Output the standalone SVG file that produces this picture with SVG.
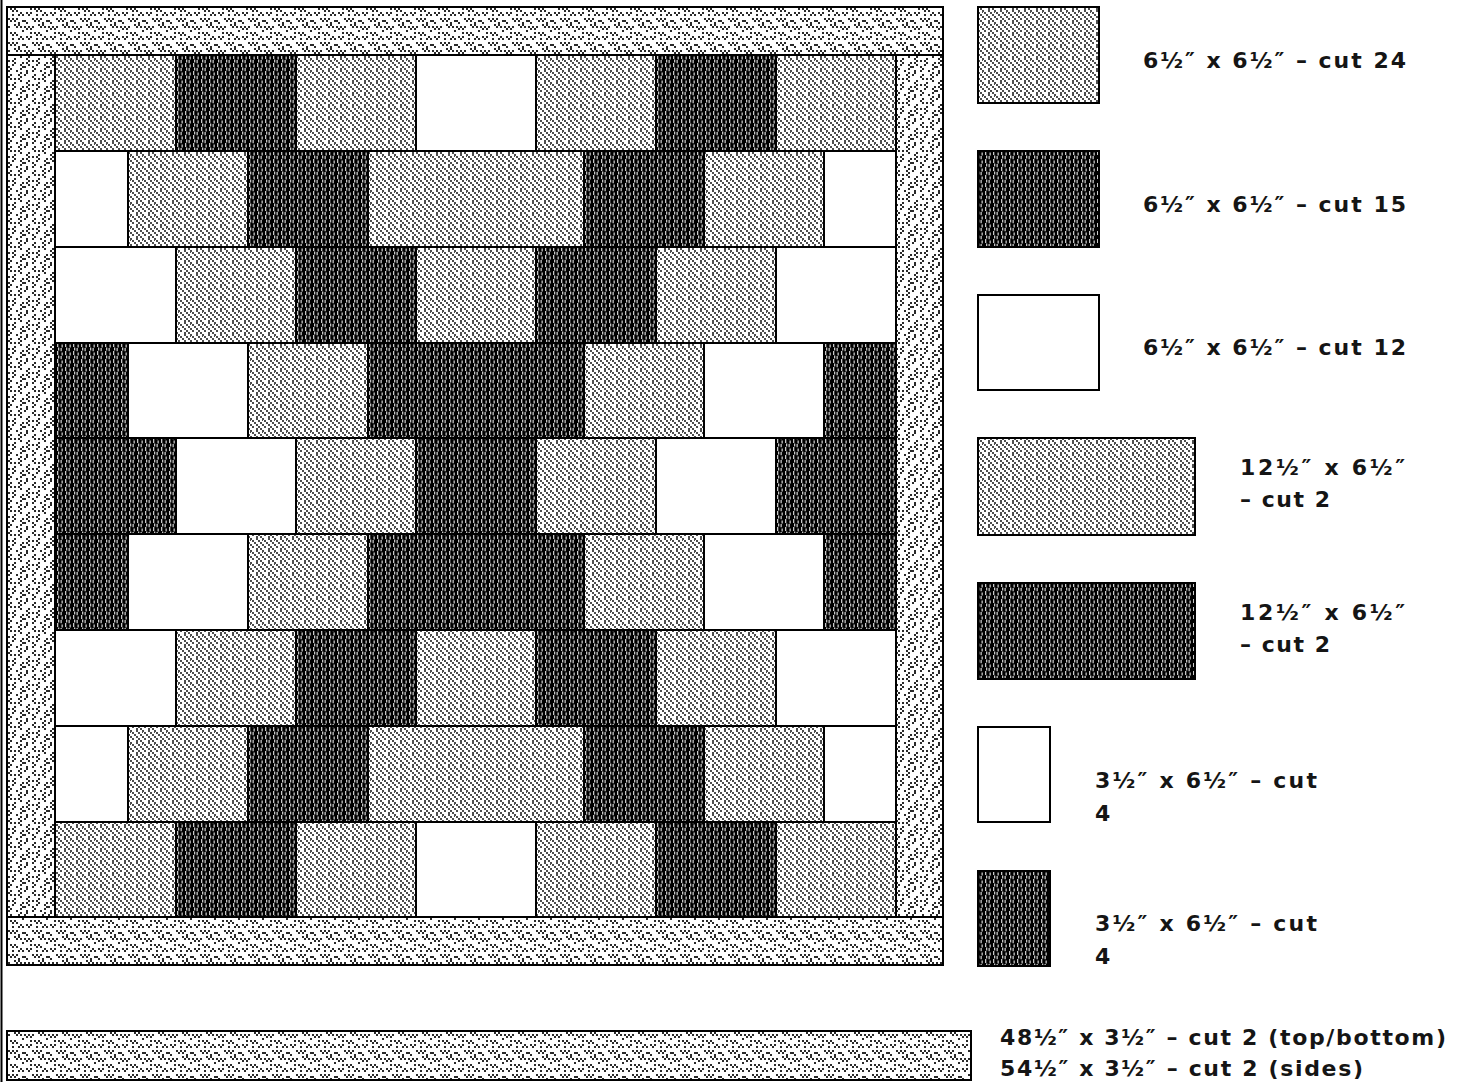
<svg xmlns="http://www.w3.org/2000/svg" width="1467" height="1082" viewBox="0 0 1467 1082">
<style>
.g,.d,.w,.b,.bv{stroke:#000;stroke-width:2}
.g{fill:url(#pg)}
.d{fill:url(#pd)}
.w{fill:#fff}
.b{fill:url(#pb)}
.bv{fill:url(#pbv)}
text{font-family:"DejaVu Sans","Liberation Sans",Arial,sans-serif;font-weight:bold;font-size:22px;fill:#151515}
</style>
<defs>
<pattern id="pg" width="12" height="12" patternUnits="userSpaceOnUse">
<rect x="0" y="0" width="12" height="12" fill="#fff"/>
<path fill="#4d4d4d" d="M0 0h2v2h-2zM2 2h2v2h-2zM4 4h2v2h-2zM6 6h2v2h-2zM8 8h2v2h-2zM10 10h2v2h-2zM6 0h2v2h-2zM8 2h2v2h-2zM10 4h2v2h-2zM0 6h2v2h-2zM4 8h2v2h-2zM4 10h2v2h-2zM10 0h1v1h-1z"/>
</pattern>
<pattern id="pd" width="8" height="8" patternUnits="userSpaceOnUse">
<rect x="0" y="0" width="8" height="8" fill="#000"/>
<path fill="#c8c8c8" d="M1 0h1.3v3h-1.3zM2 3.5h1.3v3h-1.3zM1 7h1.3v1h-1.3zM5.5 0.5h1.3v3h-1.3zM4.5 4h1.3v3.2h-1.3z"/>
</pattern>
<pattern id="pb" width="24" height="24" patternUnits="userSpaceOnUse">
<rect x="0" y="0" width="24" height="24" fill="#fff"/>
<path fill="#2a2a2a" d="M0 2h2v2h-2zM2 4h2v2h-2zM4 2h2v2h-2zM6 4h2v2h-2zM8 2h2v2h-2zM14 0h2v2h-2zM16 2h2v2h-2zM18 0h2v2h-2zM20 2h2v2h-2zM10 8h2v2h-2zM12 10h2v2h-2zM14 8h2v2h-2zM16 10h2v2h-2zM2 12h2v2h-2zM4 14h2v2h-2zM6 12h2v2h-2zM20 12h2v2h-2zM22 14h2v2h-2zM18 14h2v2h-2zM8 18h2v2h-2zM10 20h2v2h-2zM12 18h2v2h-2zM14 20h2v2h-2zM16 18h2v2h-2zM0 20h2v2h-2zM2 22h2v2h-2zM22 6h2v2h-2zM6 8h2v2h-2zM18 22h2v2h-2zM22 20h2v2h-2zM12 14h2v2h-2z"/>
</pattern>
<pattern id="pbv" href="#pb" patternTransform="rotate(90)"/>
</defs>

<line x1="1.5" y1="0" x2="1.5" y2="1082" stroke="#000" stroke-width="2"/>

<g id="quilt">
<g id="border-top"><rect class="b" x="7" y="7" width="936" height="48"/></g>
<g id="border-left"><rect class="bv" x="7" y="55" width="48" height="862"/></g>
<g id="border-right"><rect class="bv" x="896" y="55" width="47" height="862"/></g>
<g id="border-bottom"><rect class="b" x="7" y="917" width="936" height="48"/></g>

<g id="r1c1"><rect class="g" x="55" y="55" width="121" height="96"/></g>
<g id="r1c2"><rect class="d" x="176" y="55" width="120" height="96"/></g>
<g id="r1c3"><rect class="g" x="296" y="55" width="120" height="96"/></g>
<g id="r1c4"><rect class="w" x="416" y="55" width="120" height="96"/></g>
<g id="r1c5"><rect class="g" x="536" y="55" width="120" height="96"/></g>
<g id="r1c6"><rect class="d" x="656" y="55" width="120" height="96"/></g>
<g id="r1c7"><rect class="g" x="776" y="55" width="120" height="96"/></g>

<g id="r2c1"><rect class="w" x="55" y="151" width="73" height="96"/></g>
<g id="r2c2"><rect class="g" x="128" y="151" width="120" height="96"/></g>
<g id="r2c3"><rect class="d" x="248" y="151" width="120" height="96"/></g>
<g id="r2c4"><rect class="g" x="368" y="151" width="216" height="96"/></g>
<g id="r2c5"><rect class="d" x="584" y="151" width="120" height="96"/></g>
<g id="r2c6"><rect class="g" x="704" y="151" width="120" height="96"/></g>
<g id="r2c7"><rect class="w" x="824" y="151" width="72" height="96"/></g>

<g id="r3c1"><rect class="w" x="55" y="247" width="121" height="96"/></g>
<g id="r3c2"><rect class="g" x="176" y="247" width="120" height="96"/></g>
<g id="r3c3"><rect class="d" x="296" y="247" width="120" height="96"/></g>
<g id="r3c4"><rect class="g" x="416" y="247" width="120" height="96"/></g>
<g id="r3c5"><rect class="d" x="536" y="247" width="120" height="96"/></g>
<g id="r3c6"><rect class="g" x="656" y="247" width="120" height="96"/></g>
<g id="r3c7"><rect class="w" x="776" y="247" width="120" height="96"/></g>

<g id="r4c1"><rect class="d" x="55" y="343" width="73" height="95"/></g>
<g id="r4c2"><rect class="w" x="128" y="343" width="120" height="95"/></g>
<g id="r4c3"><rect class="g" x="248" y="343" width="120" height="95"/></g>
<g id="r4c4"><rect class="d" x="368" y="343" width="216" height="95"/></g>
<g id="r4c5"><rect class="g" x="584" y="343" width="120" height="95"/></g>
<g id="r4c6"><rect class="w" x="704" y="343" width="120" height="95"/></g>
<g id="r4c7"><rect class="d" x="824" y="343" width="72" height="95"/></g>

<g id="r5c1"><rect class="d" x="55" y="438" width="121" height="96"/></g>
<g id="r5c2"><rect class="w" x="176" y="438" width="120" height="96"/></g>
<g id="r5c3"><rect class="g" x="296" y="438" width="120" height="96"/></g>
<g id="r5c4"><rect class="d" x="416" y="438" width="120" height="96"/></g>
<g id="r5c5"><rect class="g" x="536" y="438" width="120" height="96"/></g>
<g id="r5c6"><rect class="w" x="656" y="438" width="120" height="96"/></g>
<g id="r5c7"><rect class="d" x="776" y="438" width="120" height="96"/></g>

<g id="r6c1"><rect class="d" x="55" y="534" width="73" height="96"/></g>
<g id="r6c2"><rect class="w" x="128" y="534" width="120" height="96"/></g>
<g id="r6c3"><rect class="g" x="248" y="534" width="120" height="96"/></g>
<g id="r6c4"><rect class="d" x="368" y="534" width="216" height="96"/></g>
<g id="r6c5"><rect class="g" x="584" y="534" width="120" height="96"/></g>
<g id="r6c6"><rect class="w" x="704" y="534" width="120" height="96"/></g>
<g id="r6c7"><rect class="d" x="824" y="534" width="72" height="96"/></g>

<g id="r7c1"><rect class="w" x="55" y="630" width="121" height="96"/></g>
<g id="r7c2"><rect class="g" x="176" y="630" width="120" height="96"/></g>
<g id="r7c3"><rect class="d" x="296" y="630" width="120" height="96"/></g>
<g id="r7c4"><rect class="g" x="416" y="630" width="120" height="96"/></g>
<g id="r7c5"><rect class="d" x="536" y="630" width="120" height="96"/></g>
<g id="r7c6"><rect class="g" x="656" y="630" width="120" height="96"/></g>
<g id="r7c7"><rect class="w" x="776" y="630" width="120" height="96"/></g>

<g id="r8c1"><rect class="w" x="55" y="726" width="73" height="96"/></g>
<g id="r8c2"><rect class="g" x="128" y="726" width="120" height="96"/></g>
<g id="r8c3"><rect class="d" x="248" y="726" width="120" height="96"/></g>
<g id="r8c4"><rect class="g" x="368" y="726" width="216" height="96"/></g>
<g id="r8c5"><rect class="d" x="584" y="726" width="120" height="96"/></g>
<g id="r8c6"><rect class="g" x="704" y="726" width="120" height="96"/></g>
<g id="r8c7"><rect class="w" x="824" y="726" width="72" height="96"/></g>

<g id="r9c1"><rect class="g" x="55" y="822" width="121" height="95"/></g>
<g id="r9c2"><rect class="d" x="176" y="822" width="120" height="95"/></g>
<g id="r9c3"><rect class="g" x="296" y="822" width="120" height="95"/></g>
<g id="r9c4"><rect class="w" x="416" y="822" width="120" height="95"/></g>
<g id="r9c5"><rect class="g" x="536" y="822" width="120" height="95"/></g>
<g id="r9c6"><rect class="d" x="656" y="822" width="120" height="95"/></g>
<g id="r9c7"><rect class="g" x="776" y="822" width="120" height="95"/></g>
</g>

<g id="legend">
<g id="leg1"><rect class="g" x="978" y="7" width="121" height="96"/><text x="1143" y="68" textLength="263" lengthAdjust="spacing">6½″ x 6½″ – cut 24</text></g>
<g id="leg2"><rect class="d" x="978" y="151" width="121" height="96"/><text x="1143" y="212" textLength="263" lengthAdjust="spacing">6½″ x 6½″ – cut 15</text></g>
<g id="leg3"><rect class="w" x="978" y="295" width="121" height="95"/><text x="1143" y="355" textLength="263" lengthAdjust="spacing">6½″ x 6½″ – cut 12</text></g>
<g id="leg4"><rect class="g" x="978" y="438" width="217" height="97"/><text x="1240" y="475" textLength="165" lengthAdjust="spacing">12½″ x 6½″</text><text x="1240" y="507" textLength="90" lengthAdjust="spacing">– cut 2</text></g>
<g id="leg5"><rect class="d" x="978" y="583" width="217" height="96"/><text x="1240" y="620" textLength="165" lengthAdjust="spacing">12½″ x 6½″</text><text x="1240" y="652" textLength="90" lengthAdjust="spacing">– cut 2</text></g>
<g id="leg6"><rect class="w" x="978" y="727" width="72" height="95"/><text x="1095" y="788" textLength="222" lengthAdjust="spacing">3½″ x 6½″ – cut</text><text x="1095" y="821">4</text></g>
<g id="leg7"><rect class="d" x="978" y="871" width="72" height="95"/><text x="1095" y="931" textLength="222" lengthAdjust="spacing">3½″ x 6½″ – cut</text><text x="1095" y="964">4</text></g>
<g id="leg8"><rect class="b" x="7" y="1031" width="964" height="49"/><text x="1000" y="1045" textLength="446" lengthAdjust="spacing">48½″ x 3½″ – cut 2 (top/bottom)</text><text x="1000" y="1076" textLength="363" lengthAdjust="spacing">54½″ x 3½″ – cut 2 (sides)</text></g>
</g>
</svg>
